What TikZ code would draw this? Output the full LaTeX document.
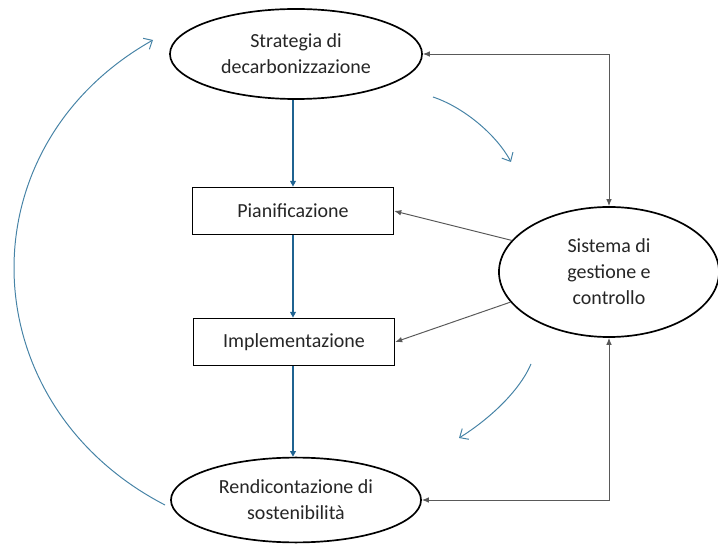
\documentclass[tikz,border=0pt]{standalone}
\usepackage{fontspec}
\setmainfont{Carlito}
\usepackage{xcolor}
\usetikzlibrary{shapes.geometric, arrows.meta, positioning}

\definecolor{flowblue}{HTML}{1F6391}
\definecolor{loopblue}{HTML}{4683A6}
\definecolor{txtgray}{HTML}{262626}

\begin{document}
\begin{tikzpicture}[x=0.025cm, y=-0.025cm,
  box/.style={draw, line width=1.1pt, minimum width=5.02cm, minimum height=1.18cm,
              font=\fontsize{14.2}{18.5}\selectfont, text=txtgray, align=center, fill=white},
  oval/.style={draw, line width=1.2pt, ellipse, font=\fontsize{14.2}{18.5}\selectfont,
               text=txtgray, align=center, fill=white, inner sep=0pt},
  flow/.style={-{Triangle[length=4pt,width=4pt]}, flowblue, line width=0.9pt},
  link/.style={-{Latex[length=5pt,width=4pt]}, black!65, line width=0.7pt},
  linkboth/.style={{Latex[length=5pt,width=4pt]}-{Latex[length=5pt,width=4pt]}, black!65, line width=0.7pt},
  loop/.style={-{Straight Barb[length=5pt,width=9pt]}, loopblue, line width=0.7pt},
]
  \useasboundingbox (0,0) rectangle (718,544);
  % Colonna centrale
  \node[oval, minimum width=6.3cm, minimum height=2.25cm]  (strat) at (296, 54)  {Strategia di\\decarbonizzazione};
  \node[box]                                               (pian)  at (293, 211) {Pianificazione};
  \node[box]                                               (impl)  at (294, 342) {Implementazione};
  \node[oval, minimum width=6.25cm, minimum height=2.12cm] (rend)  at (296, 500) {Rendicontazione di\\sostenibilità};
  % Sistema a destra
  \node[oval, minimum width=5.5cm, minimum height=3.25cm]  (sist)  at (609, 272) {Sistema di\\gestione e\\controllo};
  % Estremi delle frecce curve
  \coordinate (a1) at (433, 97);
  \coordinate (a2) at (511, 162);
  \coordinate (b1) at (531, 364);
  \coordinate (b2) at (459, 438);
  \coordinate (l1) at (165, 505);
  \coordinate (l2) at (153, 40);
  % Flusso verticale
  \draw[flow] (strat.south -| pian.north) -- (pian.north);
  \draw[flow] (pian) -- (pian.south |- impl.north);
  \draw[flow] (impl.south -| pian.south) -- (pian.south |- rend.north);
  % Collegamenti con il sistema
  \draw[linkboth] (strat.east) -| (sist.north);
  \draw[linkboth] (rend.east) -| (sist.south);
  \draw[link] (sist.162) -- (pian.east);
  \draw[link] (sist.197) -- (impl.east);
  % Frecce curve
  \draw[loop] (a1) .. controls (463,107) and (496,134) .. (a2);
  \draw[loop] (b1) .. controls (519,392) and (488,420) .. (b2);
  \draw[loop] (l1) .. controls (-30,404) and (-38,148) .. (l2);
\end{tikzpicture}
\end{document}
